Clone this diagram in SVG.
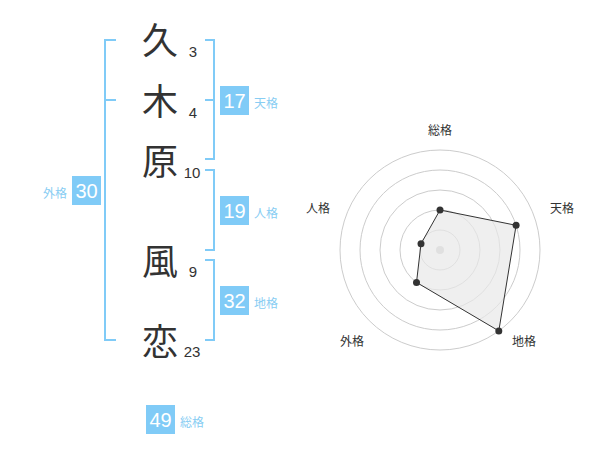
<svg xmlns="http://www.w3.org/2000/svg" width="600" height="470" viewBox="0 0 600 470">
<style>
.kanji{font-family:"Noto Sans CJK JP","Noto Sans CJK SC",sans-serif;font-size:36px;fill:#333;text-anchor:middle}
.num{font-family:"Liberation Sans",Arial,sans-serif;font-size:15px;fill:#333;text-anchor:middle}
.box{fill:#80cbf7}
.bnum{font-family:"Liberation Sans",Arial,sans-serif;font-size:20px;fill:#fff;text-anchor:middle}
.lbl{font-family:"Noto Sans CJK JP","Noto Sans CJK SC",sans-serif;font-size:12px;fill:#88cdf3}
.br{fill:none;stroke:#80cbf7;stroke-width:2}
.ring{fill:none;stroke:#cccccc;stroke-width:1}
.rl{font-family:"Noto Sans CJK JP","Noto Sans CJK SC",sans-serif;font-size:12px;fill:#333;text-anchor:middle}
.pt{fill:#333}
</style>
<rect width="600" height="470" fill="#fff"/>
<g id="connectors">
<path class="br" d="M116,40 H105 V340 H116 M105,100 H116"/>
<path class="br" d="M205,40 H214 V159 H205 M205,100 H214"/>
<path class="br" d="M205,170 H214 V250 H205"/>
<path class="br" d="M205,260 H214 V340 H205"/>
</g>
<g id="name">
<g id="c1"><text class="kanji" x="160" y="53.5">久</text><text class="num" x="193" y="57">3</text></g>
<g id="c2"><text class="kanji" x="160" y="114.5">木</text><text class="num" x="193" y="118">4</text></g>
<g id="c3"><text class="kanji" x="160" y="174.5">原</text><text class="num" x="192" y="178">10</text></g>
<g id="c4"><text class="kanji" x="160" y="274.5">風</text><text class="num" x="193" y="277">9</text></g>
<g id="c5"><text class="kanji" x="160" y="354.5">恋</text><text class="num" x="192" y="357">23</text></g>
</g>
<g id="tenkaku"><rect class="box" x="220" y="86" width="29" height="29"/><text class="bnum" x="234.5" y="107.7">17</text><text class="lbl" x="254" y="107.5">天格</text></g>
<g id="jinkaku"><rect class="box" x="220" y="196" width="29" height="29"/><text class="bnum" x="234.5" y="217.7">19</text><text class="lbl" x="254" y="217.5">人格</text></g>
<g id="chikaku"><rect class="box" x="220" y="286" width="29" height="29"/><text class="bnum" x="234.5" y="307.7">32</text><text class="lbl" x="254" y="307.5">地格</text></g>
<g id="gaikaku"><rect class="box" x="72" y="176" width="29" height="29"/><text class="bnum" x="86.5" y="197.7">30</text><text class="lbl" x="67" y="197.5" text-anchor="end">外格</text></g>
<g id="soukaku"><rect class="box" x="146" y="405" width="29" height="29"/><text class="bnum" x="160.5" y="426.7">49</text><text class="lbl" x="180" y="426.5">総格</text></g>
<g id="radar">
<circle class="ring" cx="440" cy="250" r="20"/>
<circle class="ring" cx="440" cy="250" r="40"/>
<circle class="ring" cx="440" cy="250" r="60"/>
<circle class="ring" cx="440" cy="250" r="80"/>
<circle class="ring" cx="440" cy="250" r="100"/>
<circle cx="440" cy="250" r="4" fill="#cccccc"/>
<polygon points="440,210 516.1,225.3 498.8,330.9 416.5,282.4 421,243.8" fill="#e8e8e8" fill-opacity="0.7" stroke="#333" stroke-width="1"/>
<circle class="pt" cx="440" cy="210" r="3.5"/>
<circle class="pt" cx="516.1" cy="225.3" r="3.5"/>
<circle class="pt" cx="498.8" cy="330.9" r="3.5"/>
<circle class="pt" cx="416.5" cy="282.4" r="3.5"/>
<circle class="pt" cx="421" cy="243.8" r="3.5"/>
<text class="rl" x="440" y="134.5">総格</text>
<text class="rl" x="562" y="212.5">天格</text>
<text class="rl" x="524" y="346">地格</text>
<text class="rl" x="352" y="346">外格</text>
<text class="rl" x="318" y="212.5">人格</text>
</g>
</svg>
